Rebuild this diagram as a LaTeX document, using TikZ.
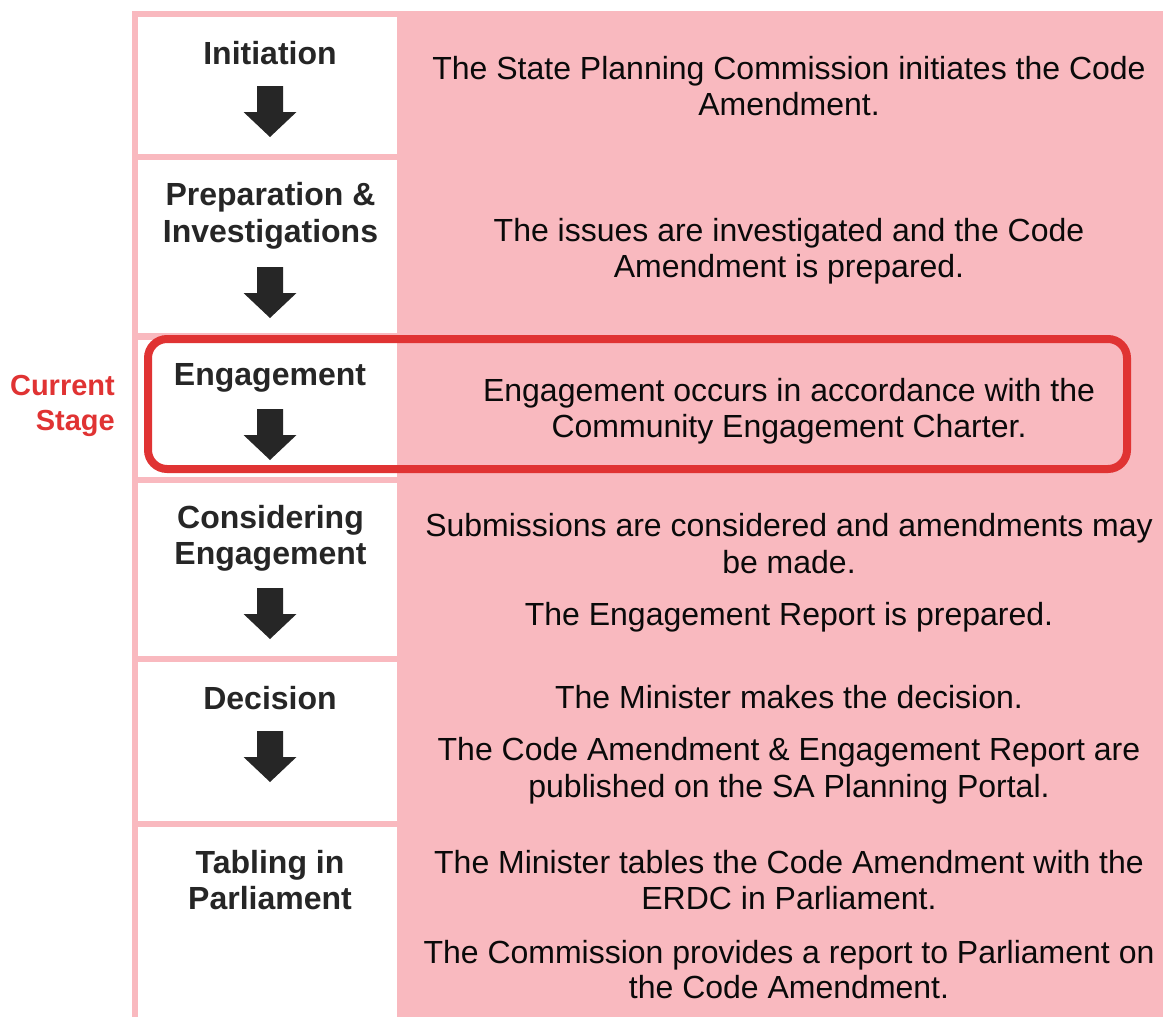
\documentclass[tikz,border=0pt]{standalone}
\usepackage{fontspec}
\setmainfont{Liberation Sans}
\definecolor{pinkbg}{RGB}{249,185,191}
\definecolor{titlegray}{RGB}{38,38,38}
\definecolor{arrowgray}{RGB}{38,38,38}
\definecolor{desctext}{RGB}{10,10,10}
\definecolor{currentred}{RGB}{224,51,51}
\begin{document}
\begin{tikzpicture}[x=1pt,y=-1pt,
  stagebox/.style={fill=white},
  title/.style={font=\fontsize{32}{37}\selectfont\bfseries, text=titlegray, anchor=base, inner sep=0pt},
  desc/.style={font=\fontsize{32}{37}\selectfont, text=desctext, anchor=base, inner sep=0pt},
  marker/.style={font=\fontsize{29}{34}\selectfont\bfseries, text=currentred, anchor=base east, inner sep=0pt},
  downarrow/.pic={\fill[arrowgray] (-13,0) -- (13,0) -- (13,26) -- (26.5,26) -- (0,51)
                   -- (-26.5,26) -- (-13,26) -- cycle;}]
\useasboundingbox (0,0) rectangle (1163,1017);

% pink panel behind the whole process table
\fill[pinkbg] (132,11) rectangle (1163,1017);

% white stage cells of the left column
\fill[stagebox] (138,17)  rectangle (397,154);
\fill[stagebox] (138,160) rectangle (397,333);
\fill[stagebox] (138,340) rectangle (397,477);
\fill[stagebox] (138,483) rectangle (397,656);
\fill[stagebox] (138,662) rectangle (397,821);
\fill[stagebox] (138,827) rectangle (397,1017);

% stage titles
\node[title] (t1)  at (270,64)  {Initiation};
\node[title] (t2a) at (270.5,205) {Preparation \&};
\node[title] (t2b) at (270.5,242) {Investigations};
\node[title] (t3)  at (270,385) {Engagement};
\node[title] (t4a) at (270.5,528) {Considering};
\node[title] (t4b) at (270.5,564) {Engagement};
\node[title] (t5)  at (270,709) {Decision};
\node[title] (t6a) at (270,873) {Tabling in};
\node[title] (t6b) at (270,909) {Parliament};

% downward arrows between stages
\pic at (270,86)  {downarrow};
\pic at (270,267) {downarrow};
\pic at (270,409) {downarrow};
\pic at (270,588) {downarrow};
\pic at (270,731) {downarrow};

% descriptions
\node[desc] (d1a) at (789,79)  {The State Planning Commission initiates the Code};
\node[desc] (d1b) at (789,115) {Amendment.};
\node[desc] (d2a) at (789,241) {The issues are investigated and the Code};
\node[desc] (d2b) at (789,277) {Amendment is prepared.};
\node[desc] (d3a) at (789,401) {Engagement occurs in accordance with the};
\node[desc] (d3b) at (789,437) {Community Engagement Charter.};
\node[desc] (d4a) at (789,536) {Submissions are considered and amendments may};
\node[desc] (d4b) at (789,573) {be made.};
\node[desc] (d4c) at (789,625) {The Engagement Report is prepared.};
\node[desc] (d5a) at (789,708) {The Minister makes the decision.};
\node[desc] (d5b) at (789,760) {The Code Amendment \& Engagement Report are};
\node[desc] (d5c) at (789,797) {published on the SA Planning Portal.};
\node[desc] (d6a) at (789,873) {The Minister tables the Code Amendment with the};
\node[desc] (d6b) at (789,909) {ERDC in Parliament.};
\node[desc] (d6c) at (789,963) {The Commission provides a report to Parliament on};
\node[desc] (d6d) at (789,998) {the Code Amendment.};

% current stage highlight
\draw[currentred, line width=8pt, rounded corners=19pt] (148,339) rectangle (1127,469);
\node[marker] (cur1) at (115,395) {Current};
\node[marker] (cur2) at (115,430) {Stage};
\end{tikzpicture}
\end{document}
